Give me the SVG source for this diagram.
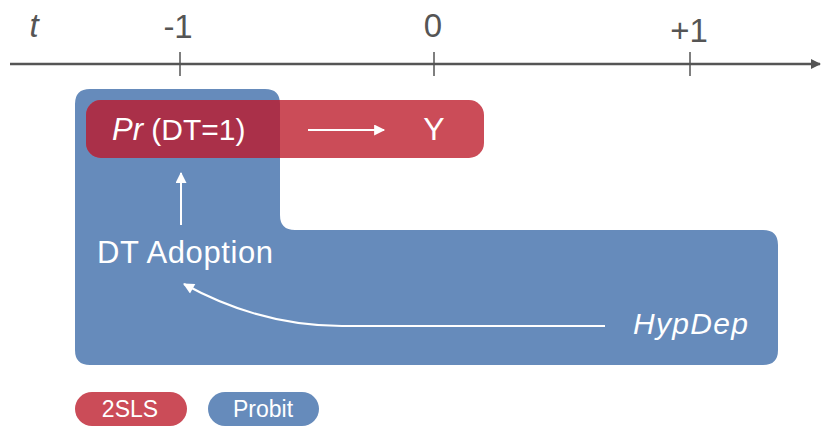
<svg xmlns="http://www.w3.org/2000/svg" width="824" height="429" viewBox="0 0 824 429">
<style>
.ax{stroke:#555;stroke-width:2.5;fill:none}
.tk{stroke:#555;stroke-width:1.5}
.al{font-family:"Liberation Sans",Arial,sans-serif;font-size:33px;fill:#555;text-anchor:middle}
.wt{font-family:"Liberation Sans",Arial,sans-serif;fill:#fff}
.wl{stroke:#fff;stroke-width:2;fill:none}
</style>
<defs>
<marker id="ah" viewBox="0 0 10 10" refX="9" refY="5" markerWidth="6.5" markerHeight="5.5" orient="auto"><path d="M0,0 L10,5 L0,10 Z" fill="#fff"/></marker>
<marker id="axh" viewBox="0 0 10 10" refX="9" refY="5" markerWidth="4" markerHeight="4" orient="auto"><path d="M0,0 L10,5 L0,10 Z" fill="#555"/></marker>
<clipPath id="blueclip"><path d="M90,89 H265 Q280,89 280,104 V215 Q280,230 295,230 H763 Q778,230 778,245 V350 Q778,365 763,365 H90 Q75,365 75,350 V104 Q75,89 90,89 Z"/></clipPath>
</defs>
<g id="axis">
<line class="ax" x1="10" y1="64" x2="820" y2="64" marker-end="url(#axh)"/>
<line class="tk" x1="180" y1="52" x2="180" y2="76"/>
<line class="tk" x1="434" y1="52" x2="434" y2="76"/>
<line class="tk" x1="690" y1="52" x2="690" y2="76"/>
<text class="al" x="34" y="37" font-style="italic" font-size="34">t</text>
<text class="al" x="178" y="38" textLength="29" lengthAdjust="spacing">-1</text>
<text class="al" x="433" y="37">0</text>
<text class="al" x="689" y="42">+1</text>
</g>
<g id="probit-region">
<path d="M90,89 H265 Q280,89 280,104 V215 Q280,230 295,230 H763 Q778,230 778,245 V350 Q778,365 763,365 H90 Q75,365 75,350 V104 Q75,89 90,89 Z" fill="#668BBB"/>
</g>
<g id="sls-region">
<rect x="86" y="100" width="398" height="58" rx="15" fill="#CB4C58"/>
<rect x="86" y="100" width="398" height="58" rx="15" fill="#AA3049" clip-path="url(#blueclip)"/>
</g>
<g id="pr-node">
<text class="wt" x="112" y="140" font-size="31"><tspan font-style="italic">Pr</tspan><tspan font-size="30"> (DT=1)</tspan></text>
</g>
<g id="y-node">
<text class="wt" x="434" y="140" font-size="32" text-anchor="middle">Y</text>
</g>
<g id="dt-node">
<text class="wt" x="97" y="263" font-size="31" textLength="176" lengthAdjust="spacing">DT Adoption</text>
</g>
<g id="hypdep-node">
<text class="wt" x="633" y="334" font-size="30" font-style="italic" textLength="115" lengthAdjust="spacing">HypDep</text>
</g>
<g id="connectors">
<line class="wl" x1="308" y1="130" x2="384" y2="130" marker-end="url(#ah)"/>
<line class="wl" x1="181" y1="225" x2="181" y2="173" marker-end="url(#ah)"/>
<path class="wl" d="M605,326 H342 Q260,326 184,284" marker-end="url(#ah)"/>
</g>
<g id="legend">
<rect x="75" y="392" width="112" height="34" rx="17" fill="#CB4C58"/>
<text class="wt" x="130" y="417" font-size="23" text-anchor="middle">2SLS</text>
<rect x="208" y="392" width="111" height="34" rx="17" fill="#668BBB"/>
<text class="wt" x="263" y="417" font-size="23" text-anchor="middle">Probit</text>
</g>
</svg>
